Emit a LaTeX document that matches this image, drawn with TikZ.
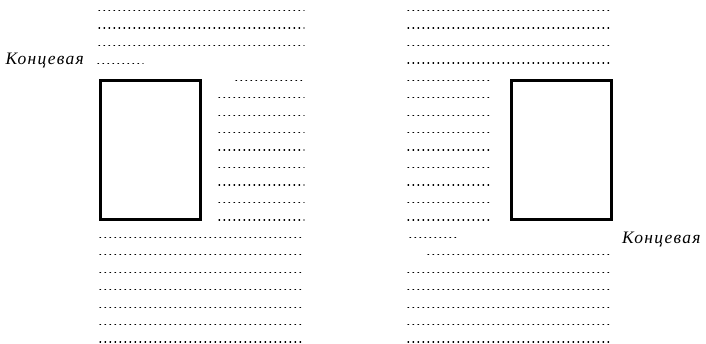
\documentclass[tikz,border=0pt]{standalone}
\usepackage{fontspec}
\setmainfont{Liberation Serif}
\usetikzlibrary{calc}

\begin{document}
\begin{tikzpicture}[x=1pt, y=-1pt, line cap=round,
    dots/.style={line width=1.3pt, dash pattern=on 0.6pt off 4.4pt, black},
    frame/.style={line width=3pt, line cap=rect},
    endlabel/.style={font=\itshape\fontsize{17.5}{19}\selectfont, inner sep=0pt}]
  \useasboundingbox (0,0) rectangle (706,343);
  % left page: three full lines on top
  \foreach \k in {0,1,2}
    \draw[dots] (99,10.5+17.45*\k) -- (304,10.5+17.45*\k);
  % end label with its short line
  \node[endlabel, anchor=base east] (labelL) at (84,64) {\addfontfeatures{LetterSpace=7}Концевая};
  \draw[dots] (98,63.5) -- (143,63.5);
  % picture frame and the lines beside it
  \draw[frame] (100.5,80.5) rectangle (200.5,219);
  \draw[dots] (236,80.5) -- (304,80.5);
  \foreach \k in {5,...,12}
    \draw[dots] (219,10.5+17.45*\k) -- (304,10.5+17.45*\k);
  % full lines below
  \foreach \k in {13,...,19}
    \draw[dots] (100,10.5+17.45*\k) -- (304,10.5+17.45*\k);

  % right page: four full lines on top
  \foreach \k in {0,...,3}
    \draw[dots] (408,10.5+17.45*\k) -- (612,10.5+17.45*\k);
  % picture frame and the lines beside it
  \draw[frame] (511.5,80.5) rectangle (611.5,219);
  \foreach \k in {4,...,12}
    \draw[dots] (408,10.5+17.45*\k) -- (492,10.5+17.45*\k);
  % short end line, then a new paragraph
  \draw[dots] (410,10.5+17.45*13) -- (456,10.5+17.45*13);
  \draw[dots] (428,10.5+17.45*14) -- (612,10.5+17.45*14);
  \foreach \k in {15,...,19}
    \draw[dots] (408,10.5+17.45*\k) -- (612,10.5+17.45*\k);
  \node[endlabel, anchor=base west] (labelR) at (622,243) {\addfontfeatures{LetterSpace=7}Концевая};
\end{tikzpicture}
\end{document}
